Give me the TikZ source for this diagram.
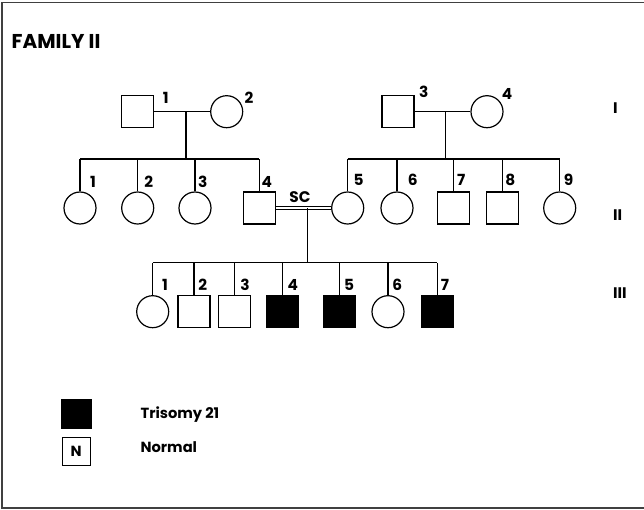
\documentclass[tikz,border=0pt]{standalone}
\usepackage{fontspec}
\setmainfont{Poppins}
\begin{document}
\begin{tikzpicture}[x=0.75pt,y=-0.75pt,
  line width=0.9pt,
  male/.style={draw,rectangle,minimum size=24pt,inner sep=0pt},
  female/.style={draw,circle,minimum size=24pt,inner sep=0pt},
  aff/.style={fill=black},
  lbl/.style={font=\bfseries\fontsize{11.5}{13}\selectfont,inner sep=0pt},
  gen/.style={font=\bfseries\fontsize{11.5}{13}\selectfont,inner sep=0pt,anchor=west},
  legtxt/.style={font=\bfseries\fontsize{11}{13}\selectfont,inner sep=0pt,anchor=west},
]
\useasboundingbox (0,0) rectangle (644,510);
\draw[line width=0.8pt,draw=black!75] (2,2.5) rectangle (660,508);

\node[font=\bfseries\fontsize{15}{17}\selectfont,anchor=west,inner sep=0pt] (title) at (11,41.7) {FAMILY II};

% Generation I
\node[male] (I1) at (137.7,111.7) {};
\node[female] (I2) at (226.7,111.7) {};
\node[male] (I3) at (398,111.7) {};
\node[female] (I4) at (487,111.7) {};
\draw (I1) -- (I2);
\draw (I3) -- (I4);
\node[lbl] (lI1) at (165.7,98) {1};
\node[lbl] (lI2) at (249,98) {2};
\node[lbl] (lI3) at (423.7,91.7) {3};
\node[lbl] (lI4) at (507,94.3) {4};
\coordinate (mI12) at (186,111.7);
\coordinate (sI12) at (186,159);
\coordinate (mI34) at (445.3,111.7);
\coordinate (sI34) at (445.3,159);
\draw (mI12) -- (sI12);
\draw (mI34) -- (sI34);

% Generation II
\node[female] (II1) at (80,208) {};
\node[female] (II2) at (137.7,208) {};
\node[female] (II3) at (195,208) {};
\node[male] (II4) at (259.3,208) {};
\node[female] (II5) at (347.7,208) {};
\node[female] (II6) at (397,208) {};
\node[male] (II7) at (453.7,208) {};
\node[male] (II8) at (502.5,208) {};
\node[female] (II9) at (559.7,208) {};
\draw (II1.north |- sI12) -- (II4.north |- sI12);
\draw (II5.north |- sI34) -- (II9.north |- sI34);
\foreach \n in {II1,II2,II3,II4}{\draw (\n.north) -- (\n.north |- sI12);}
\foreach \n in {II5,II6,II7,II8,II9}{\draw (\n.north) -- (\n.north |- sI34);}
\node[lbl] (lII1) at (93,181.5) {1};
\node[lbl] (lII2) at (148.7,181.5) {2};
\node[lbl] (lII3) at (202.7,181.5) {3};
\node[lbl] (lII4) at (266.7,181.5) {4};
\node[lbl] (lII5) at (358.7,179.5) {5};
\node[lbl] (lII6) at (412.7,179.5) {6};
\node[lbl] (lII7) at (461.3,179.5) {7};
\node[lbl] (lII8) at (510.3,179.5) {8};
\node[lbl] (lII9) at (568.7,179.5) {9};
\node[lbl] (sc) at (300,196.7) {SC};
\draw[line width=0.6pt,double distance=1.6pt] (II4) -- (II5);
\coordinate (mII45) at (307.5,208);
\coordinate (sII45) at (307.5,262.7);
\draw (mII45) -- (sII45);

% Generation III
\node[female] (III1) at (152.7,311.7) {};
\node[male] (III2) at (194,311.7) {};
\node[male] (III3) at (234.2,311.7) {};
\node[male,aff] (III4) at (282.8,311.7) {};
\node[male,aff] (III5) at (339.7,311.7) {};
\node[female] (III6) at (388,311.7) {};
\node[male,aff] (III7) at (437.2,311.7) {};
\draw (III1.north |- sII45) -- (III7.north |- sII45);
\foreach \n in {III1,III2,III3,III4,III5,III6,III7}{\draw (\n.north) -- (\n.north |- sII45);}
\node[lbl] (lIII1) at (165,285) {1};
\node[lbl] (lIII2) at (202.7,285) {2};
\node[lbl] (lIII3) at (245,285) {3};
\node[lbl] (lIII4) at (292.7,285) {4};
\node[lbl] (lIII5) at (349,285) {5};
\node[lbl] (lIII6) at (397.3,285) {6};
\node[lbl] (lIII7) at (445,285) {7};

% generation numerals
\node[gen] (gI) at (612.5,108.3) {I};
\node[gen] (gII) at (612.5,215) {II};
\node[gen] (gIII) at (612.5,293.3) {III};

% legend
\node[draw,fill=black,minimum size=21.75pt,inner sep=0pt] (legA) at (76.5,413.8) {};
\node[draw,minimum size=21pt,inner sep=0pt,font=\bfseries\fontsize{11}{13}\selectfont] (legN) at (76.2,451.3) {N};
\node[legtxt] (tA) at (140,414.3) {Trisomy 21};
\node[legtxt] (tN) at (140,447.3) {Normal};
\end{tikzpicture}
\end{document}
